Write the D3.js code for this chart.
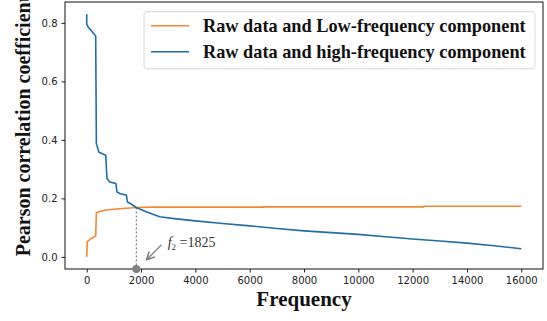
<!DOCTYPE html>
<html>
<head>
<meta charset="utf-8">
<script src="https://cdn.jsdelivr.net/npm/d3@7"></script>
<style>
  html, body { margin: 0; padding: 0; background: #fff; }
  #chart { width: 547px; height: 321px; }
</style>
</head>
<body>
<div id="chart"></div>
<script>
// frequency (x) and Pearson coefficient (y)
const highFreq = [0, 0, 60, 170, 330, 355, 450, 700, 745, 850, 1070, 1115, 1215, 1460, 1500, 1645, 1825, 2190, 2685, 3300, 4000, 5000, 6000, 7000, 8000, 9000, 10000, 11000, 12000, 13000, 14000, 15000, 16000];
const highVals = [0.83, 0.795, 0.785, 0.773, 0.755, 0.387, 0.358, 0.347, 0.268, 0.256, 0.251, 0.222, 0.217, 0.211, 0.188, 0.180, 0.169, 0.154, 0.137, 0.13, 0.123, 0.114, 0.106, 0.097, 0.089, 0.083, 0.077, 0.069, 0.061, 0.054, 0.047, 0.038, 0.028];

const lowFreq = [0, 20, 170, 330, 355, 480, 720, 1215, 1825, 2500, 6500, 6500, 12400, 12400, 16000];
const lowVals = [0, 0.052, 0.063, 0.071, 0.151, 0.155, 0.16, 0.1645, 0.169, 0.170, 0.170, 0.171, 0.171, 0.173, 0.173];

const xTicks = [0, 2000, 4000, 6000, 8000, 10000, 12000, 14000, 16000];
const yTicks = [0.0, 0.2, 0.4, 0.6, 0.8];

const crossF = 1825;
const crossV = 0.169;

const seriesNames = ["Raw data and Low-frequency component", "Raw data and high-frequency component"];
const colors = ["#f28a30", "#1f6fa3"];

const width = 547, height = 321;
const margin = { top: 2, right: 4, bottom: 52, left: 65 };
const innerWidth = width - margin.left - margin.right;
const innerHeight = height - margin.top - margin.bottom;

const svg = d3.select("#chart").append("svg")
  .attr("width", width)
  .attr("height", height);

const g = svg.append("g")
  .attr("transform", `translate(${margin.left},${margin.top})`);

const x = d3.scaleLinear().domain([-800, 16800]).range([0, innerWidth]);
const y = d3.scaleLinear().domain([-0.0415, 0.8715]).range([innerHeight, 0]);

const tickFont = "DejaVu Sans, sans-serif";
const serif = "'Liberation Serif', 'Times New Roman', serif";

// axes
const xAxis = g.append("g")
  .attr("transform", `translate(0,${innerHeight})`)
  .call(d3.axisBottom(x).tickValues(xTicks).tickFormat(d3.format("d")).tickSize(3.5).tickPadding(4));
const yAxis = g.append("g")
  .call(d3.axisLeft(y).tickValues(yTicks).tickFormat(d3.format(".1f")).tickSize(3.5).tickPadding(4));
[xAxis, yAxis].forEach(a => {
  a.select(".domain").remove();
  a.selectAll("text").style("font-family", tickFont).style("font-size", "10px").attr("fill", "#222");
  a.selectAll("line").attr("stroke", "#222");
});

// frame
g.append("rect")
  .attr("width", innerWidth).attr("height", innerHeight)
  .attr("fill", "none").attr("stroke", "#111").attr("stroke-width", 1);

const line = d3.line().x(d => x(d[0])).y(d => y(d[1]));

g.append("path")
  .datum(lowFreq.map((f, i) => [f, lowVals[i]]))
  .attr("fill", "none").attr("stroke", colors[0]).attr("stroke-width", 1.6)
  .attr("d", line);

g.append("path")
  .datum(highFreq.map((f, i) => [f, highVals[i]]))
  .attr("fill", "none").attr("stroke", colors[1]).attr("stroke-width", 1.6)
  .attr("d", line);

// cross marker
g.append("line")
  .attr("x1", x(crossF)).attr("x2", x(crossF))
  .attr("y1", y(crossV)).attr("y2", innerHeight)
  .attr("stroke", "#555").attr("stroke-width", 0.9).attr("stroke-dasharray", "2,2");
g.append("circle")
  .attr("cx", x(crossF)).attr("cy", innerHeight).attr("r", 4)
  .attr("fill", "#808080");

svg.append("defs").append("marker")
  .attr("id", "arrow").attr("viewBox", "0 0 10 10")
  .attr("refX", 9).attr("refY", 5)
  .attr("markerWidth", 7).attr("markerHeight", 7)
  .attr("orient", "auto")
  .append("path").attr("d", "M1,1 L9,5 L1,9").attr("fill", "none")
  .attr("stroke", "#808080").attr("stroke-width", 1.6);

g.append("line")
  .attr("x1", x(2750)).attr("y1", y(0.041))
  .attr("x2", x(2200)).attr("y2", y(-0.010))
  .attr("stroke", "#808080").attr("stroke-width", 1.4)
  .attr("marker-end", "url(#arrow)");

const ann = g.append("text")
  .attr("x", x(2980)).attr("y", y(0.035))
  .style("font-family", serif).style("font-size", "14px").attr("fill", "#333");
ann.append("tspan").style("font-style", "italic").text("f");
ann.append("tspan").attr("dy", 3).style("font-size", "9px").text("2");
ann.append("tspan").attr("dy", -3).text(" =1825");

// legend
const legend = g.append("g").attr("transform", "translate(79,9.7)");
legend.append("rect")
  .attr("x", 0).attr("y", 0).attr("width", 391).attr("height", 57).attr("rx", 3)
  .attr("fill", "#fff").attr("fill-opacity", 0.8).attr("stroke", "#d8d8d8");
seriesNames.forEach((name, i) => {
  const yy = 14 + i * 26;
  legend.append("line").attr("x1", 7).attr("x2", 45).attr("y1", yy).attr("y2", yy)
    .attr("stroke", colors[i]).attr("stroke-width", 1.6);
  legend.append("text").attr("x", 59).attr("y", yy + 6)
    .style("font-family", serif).style("font-weight", "bold").style("font-size", "18.3px")
    .attr("fill", "#111").text(name);
});

// axis labels
svg.append("text")
  .attr("x", margin.left + innerWidth / 2).attr("y", 306)
  .attr("text-anchor", "middle")
  .style("font-family", serif).style("font-weight", "bold").style("font-size", "21px")
  .attr("fill", "#111").text("Frequency");

svg.append("text")
  .attr("transform", `translate(30,126) rotate(-90)`)
  .attr("text-anchor", "middle")
  .style("font-family", serif).style("font-weight", "bold").style("font-size", "20px")
  .attr("fill", "#111").text("Pearson correlation coefficient");
</script>
</body>
</html>
